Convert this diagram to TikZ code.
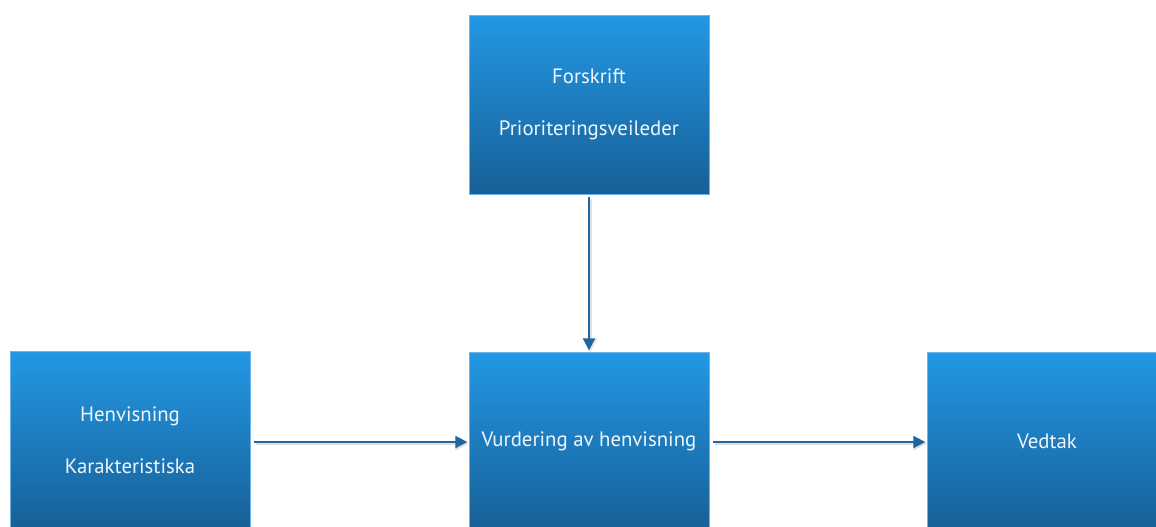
\documentclass[tikz,border=0pt]{standalone}
\usepackage{fontspec}
\setmainfont{PT Sans}
\usetikzlibrary{arrows.meta}
\definecolor{boxtop}{HTML}{2398E5}
\definecolor{boxbot}{HTML}{175F96}
\definecolor{boxedge}{HTML}{6FB4E6}
\definecolor{arrowcol}{HTML}{20659C}
\definecolor{txtcol}{HTML}{EEF6FC}
\tikzset{
  box/.style={rectangle, top color=boxtop, bottom color=boxbot, draw=boxedge, line width=0.5pt,
    minimum width=180pt, text=txtcol, font=\fontsize{15.6pt}{19pt}\selectfont, align=center, inner sep=0pt},
  conn/.style={draw=arrowcol, line width=1.4pt, -{Triangle[length=9pt,width=9pt]}},
  connshadow/.style={draw=black!12, line width=2.4pt, -{Triangle[length=10pt,width=10pt]}}
}
\begin{document}
\begin{tikzpicture}[x=0.75pt,y=-0.75pt]
\useasboundingbox (0,0) rectangle (1156,526);
\clip (0,0) rectangle (1156,526);
\node[box, minimum height=134.25pt] (top) at (589,104.5) {Forskrift\\[20pt]Prioriteringsveileder};
\node[box, minimum height=133.5pt] (left) at (130,440) {Henvisning\\[20pt]Karakteristiska};
\node[box, minimum height=133.5pt] (mid) at (589,441) {Vurdering av henvisning};
\node[box, minimum height=133.5pt, minimum width=180pt] (right) at (1047,441) {Vedtak};
% shadows
\draw[connshadow, transform canvas={xshift=1pt,yshift=-1.2pt}] ([xshift=3pt]left.east |- 0,442) -- ([xshift=-1pt]mid.west |- 0,442);
\draw[connshadow, transform canvas={xshift=1pt,yshift=-1.2pt}] ([xshift=3pt]mid.east |- 0,442) -- ([xshift=-1pt]right.west |- 0,442);
\draw[connshadow, transform canvas={xshift=1pt,yshift=-1.2pt}] ([yshift=-2pt]top.south) -- ([yshift=1pt]mid.north);
% arrows
\draw[conn] ([xshift=3pt]left.east |- 0,442) -- ([xshift=-1pt]mid.west |- 0,442);
\draw[conn] ([xshift=3pt]mid.east |- 0,442) -- ([xshift=-1pt]right.west |- 0,442);
\draw[conn] ([yshift=-2pt]top.south) -- ([yshift=1pt]mid.north);
\end{tikzpicture}
\end{document}
